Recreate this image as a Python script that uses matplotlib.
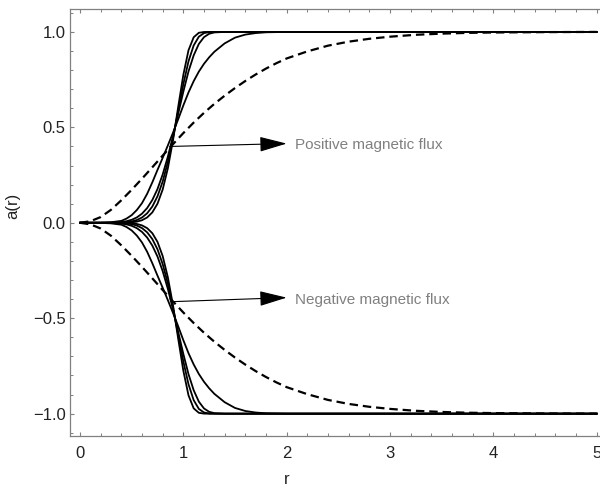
import matplotlib
matplotlib.use("Agg")
import matplotlib.pyplot as plt
import numpy as np
from matplotlib.ticker import MultipleLocator

# radial grid shared by the four solid profiles
r_solid = [0, 0.1, 0.2, 0.3, 0.4, 0.45, 0.5, 0.55, 0.6, 0.65, 0.7, 0.75, 0.8,
           0.85, 0.9, 0.95, 1.0, 1.05, 1.1, 1.15, 1.2, 1.25, 1.3, 1.4, 1.5,
           1.6, 1.7, 1.8, 2.0, 2.5, 3.0, 4.0, 5.0]

a_solid_1 = [0, 0, 0, 0, 0.0003, 0.001, 0.0025, 0.0061, 0.0135, 0.028, 0.0546,
             0.100, 0.174, 0.285, 0.432, 0.606, 0.775, 0.904, 0.972, 0.9955,
             0.9997, 1, 1, 1, 1, 1, 1, 1, 1, 1, 1, 1, 1]
a_solid_2 = [0, 0, 0, 0.0002, 0.0013, 0.0032, 0.0071, 0.0145, 0.0277, 0.050,
             0.0853, 0.139, 0.216, 0.318, 0.444, 0.586, 0.726, 0.846, 0.929,
             0.975, 0.9938, 0.999, 1, 1, 1, 1, 1, 1, 1, 1, 1, 1, 1]
a_solid_3 = [0, 0, 0, 0.0007, 0.004, 0.0082, 0.0157, 0.0281, 0.0478, 0.0773,
             0.1195, 0.177, 0.253, 0.346, 0.454, 0.571, 0.687, 0.793, 0.877,
             0.937, 0.9727, 0.9903, 0.9973, 0.9999, 1, 1, 1, 1, 1, 1, 1, 1, 1]
a_solid_4 = [0, 0, 0.0005, 0.003, 0.010, 0.022, 0.040, 0.067, 0.103, 0.152,
             0.212, 0.277, 0.340, 0.405, 0.472, 0.542, 0.615, 0.683, 0.742,
             0.792, 0.833, 0.867, 0.896, 0.940, 0.970, 0.986, 0.994, 0.998,
             1.0, 1, 1, 1, 1]

# dashed profile
r_dash = [0, 0.1, 0.2, 0.3, 0.4, 0.5, 0.6, 0.7, 0.8, 0.9, 1.0, 1.1, 1.2, 1.3,
          1.4, 1.5, 1.6, 1.7, 1.8, 1.9, 2.0, 2.2, 2.4, 2.6, 2.8, 3.0, 3.25,
          3.5, 3.75, 4.0, 4.5, 5.0]
a_dash = [0, 0.008, 0.03, 0.068, 0.118, 0.173, 0.231, 0.291, 0.352, 0.412,
          0.47, 0.525, 0.576, 0.623, 0.666, 0.706, 0.743, 0.777, 0.808, 0.836,
          0.861, 0.898, 0.928, 0.949, 0.964, 0.975, 0.985, 0.991, 0.995,
          0.997, 0.999, 1.0]

labels = ["Positive magnetic flux", "Negative magnetic flux"]
arrow_tail = [(0.871, 0.40), (0.903, -0.413)]
arrow_tip = [(2.0, 0.415), (2.0, -0.392)]
text_pos = [(2.08, 0.405), (2.08, -0.402)]

plt.rcParams["font.family"] = ["Liberation Sans", "DejaVu Sans"]

fig = plt.figure(figsize=(6, 4.9), dpi=100)
ax = fig.add_axes([0.1161, 0.1102, 0.8956, 0.8714])

for sign in (1, -1):
    for a in (a_solid_1, a_solid_2, a_solid_3, a_solid_4):
        ax.plot(r_solid, sign * np.array(a), color="black", lw=1.3)
    ax.plot(r_dash, sign * np.array(a_dash), color="black", lw=1.6,
            dashes=(3.8, 2.2))

for lab, tail, tip, pos in zip(labels, arrow_tail, arrow_tip, text_pos):
    ax.annotate("", xy=tip, xytext=tail,
                arrowprops=dict(arrowstyle="-|>,head_length=1.7,head_width=0.47",
                                mutation_scale=10, lw=0.8, color="black",
                                shrinkA=0, shrinkB=0))
    ax.text(pos[0], pos[1], lab, color="#808080", fontsize=11,
            ha="left", va="center")

ax.set_xlim(-0.1, 5.1)
ax.set_ylim(-1.117, 1.12)
ax.xaxis.set_major_locator(MultipleLocator(1))
ax.xaxis.set_minor_locator(MultipleLocator(0.2))
ax.yaxis.set_major_locator(MultipleLocator(0.5))
ax.yaxis.set_minor_locator(MultipleLocator(0.1))
ax.tick_params(which="both", direction="in", top=True, right=True,
               color="#808080", labelsize=12, labelcolor="#222222")
ax.tick_params(axis="x", which="both", pad=7)
ax.tick_params(axis="y", which="both", pad=3)
ax.tick_params(which="major", length=3.2, width=0.8)
ax.tick_params(which="minor", length=2.0, width=0.7)
for sp in ax.spines.values():
    sp.set_color("#808080")
    sp.set_linewidth(0.9)

ax.set_xlabel("r", fontsize=12, color="#222222")
ax.set_ylabel("a(r)", fontsize=12, color="#222222")
ax.xaxis.set_label_coords(0.4045, -0.103)
ax.yaxis.set_label_coords(-0.105, 0.54)
ax.xaxis.label.set_va("center")
ax.yaxis.label.set_va("center")

fig.savefig("out.png", dpi=100)
